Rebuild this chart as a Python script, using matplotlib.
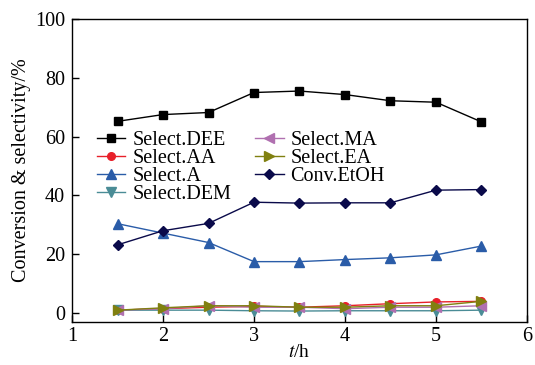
import numpy as np
import matplotlib.pyplot as plt

plt.rcParams['font.family'] = ['Liberation Serif', 'DejaVu Serif']
plt.rcParams['mathtext.fontset'] = 'stix'

# time points
t = [1.5, 2.0, 2.5, 3.0, 3.5, 4.0, 4.5, 5.0, 5.5]

# selectivities / conversion (%)
dee = [65.2, 67.5, 68.2, 75.0, 75.5, 74.3, 72.2, 71.7, 65.0]
aa = [1.0, 1.5, 2.0, 2.3, 2.0, 2.5, 3.2, 3.8, 4.0]
sel_a = [30.4, 27.2, 24.0, 17.5, 17.5, 18.2, 18.8, 19.8, 22.8]
dem = [1.0, 1.0, 1.0, 0.8, 0.7, 0.8, 0.8, 0.8, 1.0]
ma = [1.0, 1.5, 2.5, 2.0, 2.0, 1.5, 2.0, 2.0, 2.5]
ea = [1.0, 1.8, 2.5, 2.5, 2.0, 2.0, 2.5, 2.5, 4.0]
etoh = [23.2, 28.0, 30.5, 37.7, 37.4, 37.5, 37.5, 41.8, 42.0]

fig = plt.figure(figsize=(5.35, 3.65), dpi=100)
ax = fig.add_axes([0.1346, 0.118, 0.985 - 0.1346, 0.948 - 0.118])

ms = 5.5
ax.plot(t, dee, '-s', color='black', ms=ms, lw=1, label='Select.DEE')
ax.plot(t, aa, '-o', color='#e8202a', ms=ms, lw=1, label='Select.AA')
ax.plot(t, sel_a, '-^', color='#2a5ca8', ms=ms + 1, lw=1, label='Select.A')
ax.plot(t, dem, '-v', color='#4a8c96', ms=ms + 1, lw=1, label='Select.DEM')
ax.plot(t, ma, '-<', color='#b070b0', ms=ms + 1, lw=1, label='Select.MA')
ax.plot(t, ea, '->', color='#808010', ms=ms + 1, lw=1, label='Select.EA')
ax.plot(t, etoh, '-D', color='#0a0a4a', ms=ms - 0.5, lw=1, label='Conv.EtOH')

ax.set_xlim(1, 6)
ax.set_ylim(-3, 100)
ax.set_xticks([1, 2, 3, 4, 5, 6])
ax.set_yticks([0, 20, 40, 60, 80, 100])
ax.tick_params(direction='in', labelsize=14.5, length=5, width=1, pad=5, top=False, right=False)
ax.tick_params(axis='x', pad=4)
for s in ax.spines.values():
    s.set_linewidth(1)

ax.set_xlabel('$t$/h', fontsize=14, labelpad=-2)
ax.set_ylabel('Conversion & selectivity/%', fontsize=14.5, labelpad=3)

ax.legend(ncol=2, loc='upper left', bbox_to_anchor=(0.055, 0.632), frameon=False,
          fontsize=14.5, handlelength=1.4, handletextpad=0.35, labelspacing=-0.05,
          columnspacing=1.2, borderpad=0, borderaxespad=0)

plt.savefig('out.png', dpi=100)
